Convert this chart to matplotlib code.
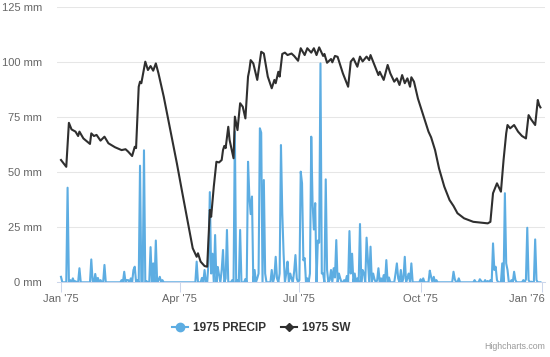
import numpy as np
import pandas as pd
import matplotlib
matplotlib.use('Agg')
import matplotlib.pyplot as plt
import matplotlib.transforms as mtransforms
from matplotlib.lines import Line2D

plt.rcParams['font.family'] = ['Liberation Sans', 'DejaVu Sans']

# 1975 daily precipitation (mm): only days with rain are listed, the rest are 0
precip_days = [0, 5, 7, 9, 11, 14, 23, 24, 26, 28, 30, 33, 46, 48, 50, 51, 53, 55, 56, 58,
               60, 63, 65, 68, 70, 72, 74, 75, 77,
               103, 107, 109, 112, 113, 114, 115, 117, 119, 120, 122, 123, 125, 126, 130,
               132, 134, 136, 140, 142, 143, 144, 145, 147, 149, 150, 151, 152, 154, 155,
               160, 162, 163, 164, 166, 167, 168, 169, 171, 172, 174, 175, 177, 178, 179,
               181, 182, 183, 184, 185, 187, 189, 190, 191, 192, 193, 195, 196, 197, 198,
               199, 201, 202, 204, 205, 207, 208, 209, 211, 212, 215, 217, 219, 220, 221,
               223, 225, 227, 229, 230, 232, 233, 235, 237, 238, 240, 241, 243, 245, 247,
               249, 254, 255, 256, 258, 260, 261, 263, 264, 266, 273, 275, 280, 281, 283,
               285, 298, 299, 302, 314, 318, 319, 322, 324, 326, 328, 329, 330, 331, 335,
               337, 338, 339, 342, 344, 345, 351, 353, 354, 355, 357, 360, 361]
precip_vals = [2.5, 43, 1, 1.8, 0.5, 6.4, 10.4, 0.5, 3.8, 2, 1, 7.9, 1, 4.8, 1, 1, 1.8, 5.6, 7.1, 1,
               53, 60, 0.5, 16, 8.6, 19, 1, 2.5, 1,
               9.4, 2, 5.6, 9, 41, 4, 13, 21.5, 7, 3.3, 5.6, 14.7, 1.8, 23.8, 1,
               68.5, 1, 23.8, 1.5, 54.8, 39, 31, 39, 5.6, 1.8, 4, 70, 68, 46.5, 4,
               5.6, 2.5, 11.6, 1.8, 4, 62.4, 31.4, 13, 4, 9.4, 4, 1.8, 4.8, 12.4, 1.8,
               1, 50.3, 45, 10, 11, 1.8, 4, 66.2, 36, 24, 36, 19, 18, 99.5, 4,
               4, 46.8, 5.6, 1, 5.6, 6.4, 2.2, 19.2, 4, 1.8, 1, 2.9, 23.3, 4, 13,
               4, 1.8, 26.5, 5.6, 4, 20.3, 10, 16.2, 4, 1.4, 0.8, 6.4, 1.8, 3.3, 10.1,
               2.2, 4, 8.6, 1.8, 5.6, 1.8, 11.6, 1.8, 4, 8.6, 1.4, 1.8, 5.3, 2.5, 2.5,
               1, 4.8, 1.4, 1.8, 1, 1.4, 0.6, 1, 0.6, 1, 17.7, 5.6, 7.1, 1, 8.6,
               40.5, 8.6, 5.6, 1, 4.8, 1, 1, 1.4, 24.8, 1, 0.3, 19.5, 1]

# 1975 soil water (mm), day of year -> value
sw_days = [0, 4, 6, 8, 11, 13, 14, 17, 22, 23, 25, 27, 30, 33, 36, 41, 46, 49, 51, 54, 56, 57,
           59, 60, 61, 64, 66, 68, 70, 72, 74, 78, 83, 88, 92, 96, 100, 103, 104, 106, 109,
           111, 113, 114, 116, 118, 120, 122, 123, 124, 125, 127, 128, 131, 132, 134, 136,
           138, 140, 142, 143, 144, 146, 149, 152, 154, 157, 160, 162, 163, 165, 166, 168,
           170, 172, 175, 177, 180, 182, 185, 187, 190, 192, 194, 196, 199, 200, 202, 205,
           206, 208, 210, 214, 218, 220, 222, 225, 227, 229, 232, 234, 235, 238, 241, 242,
           245, 248, 250, 253, 255, 257, 259, 261, 263, 265, 266, 268, 271, 275, 279, 281,
           284, 287, 291, 295, 298, 301, 306, 313, 319, 324, 326, 328, 331, 334, 336, 338,
           339, 341, 344, 347, 350, 353, 355, 357, 360, 362, 363, 364]
sw_vals = [55.6, 52.5, 72.5, 69.5, 68.5, 66.5, 68.5, 65.4, 62.9, 67.7, 66.5, 67, 64.4, 66.2,
           63.2, 61.4, 60.1, 60.5, 59.4, 57.4, 61.6, 61,
           88.9, 91.2, 90.5, 100.3, 96.5, 98.3, 96.2, 99.5, 95, 84.4, 69.2, 54, 41, 28.3, 15.5,
           11.6, 13.2, 9.4, 7.4,
           7.1, 32.9, 29.8, 43.5, 54.8, 54.5, 55.6, 60.1, 62, 61, 70.7, 64.7, 56.4, 75.3, 69.2,
           81.4, 79.8, 74.5, 93.5, 96.5, 101, 99.5, 92, 104.8, 104, 93.5, 88.2, 92, 90.5, 95.7,
           93.5, 103.8, 104.4, 103.3, 104, 102.9, 100.7, 106.4, 103.3, 106.4, 104.4, 106.4,
           103.3, 106.8, 102.9, 103.8, 99.8, 101.5, 100, 102.9, 102.5, 95, 88.9, 100.3, 101.8,
           98, 102.6, 100.4, 102.6, 101, 103.3, 98.8, 94.2, 95.7, 92, 98.8, 95, 91.2, 92.7,
           89.7, 94.2, 90.5, 92.7, 88.9, 93.2, 91.2, 83.5, 76, 68.5, 65.9, 60.1, 51.8, 43.5,
           37.4, 34.7, 31.4, 29.1, 27.5, 27.1, 26.8, 27.5, 40.5, 45, 41.2, 55.6, 67.7, 71.5,
           70, 71.5, 68.5, 66.5, 65.4, 76, 74, 71.5, 82.9, 80.6, 79.5]

tick_dates = ['1975-01-01', '1975-04-01', '1975-07-01', '1975-10-01', '1976-01-01']
tick_labels = ["Jan '75", "Apr '75", "Jul '75", "Oct '75", "Jan '76"]
y_ticks = [0, 25, 50, 75, 100, 125]

start = pd.Timestamp('1975-01-01')
days = pd.date_range('1975-01-01', '1975-12-31', freq='D')
precip = np.zeros(len(days))
precip[precip_days] = precip_vals
sw_dates = start + pd.to_timedelta(sw_days, unit='D')

blue = '#5dade2'
dark = '#2f2f2f'
grey_txt = '#666666'

fig = plt.figure(figsize=(5.5, 3.57), dpi=100)
ax = fig.add_axes([0.103, 0.2092, 0.888, 0.7703])

ax.plot(days, precip, color=blue, lw=1.5, zorder=2)
ax.plot(sw_dates, sw_vals, color=dark, lw=1.5, zorder=3)

ax.set_ylim(0, 125)
ax.set_xlim(start - pd.Timedelta(days=3.3), start + pd.Timedelta(days=367.5))
ax.set_yticks(y_ticks)
ax.set_yticklabels([f'{v} mm' for v in y_ticks])
ax.set_xticks(pd.to_datetime(tick_dates))
ax.set_xticklabels(tick_labels)

ax.yaxis.grid(True, color='#e6e6e6', lw=0.75)
ax.set_axisbelow(True)
for s in ['top', 'right', 'left']:
    ax.spines[s].set_visible(False)
ax.spines['bottom'].set_color('#ccd6eb')
ax.spines['bottom'].set_linewidth(0.75)
ax.spines['bottom'].set_zorder(1)

ax.tick_params(axis='y', length=0, pad=10.5, labelcolor=grey_txt, labelsize=8)
ax.tick_params(axis='x', length=7, width=0.75, color='#ccd6eb', pad=1.5,
               labelcolor=grey_txt, labelsize=8)

# last label is pushed inside the chart, like Highcharts does
last = ax.get_xticklabels()[-1]
last.set_horizontalalignment('right')
last.set_transform(last.get_transform() +
                   mtransforms.ScaledTranslation(3 / 100, 0, fig.dpi_scale_trans))

handles = [Line2D([], [], color=blue, lw=1.5, marker='o', markersize=6),
           Line2D([], [], color=dark, lw=1.5, marker='D', markersize=4)]
fig.legend(handles, ['1975 PRECIP', '1975 SW'], loc='center', bbox_to_anchor=(0.475, 0.08),
           ncol=2, frameon=False, handlelength=1.3, handletextpad=0.45, columnspacing=1.3,
           prop={'weight': 'bold', 'size': 8.5}, labelcolor='#333333')

fig.text(0.991, 0.029, 'Highcharts.com', ha='right', va='center', fontsize=6.3, color='#999999')

fig.savefig('out.png', dpi=100)
